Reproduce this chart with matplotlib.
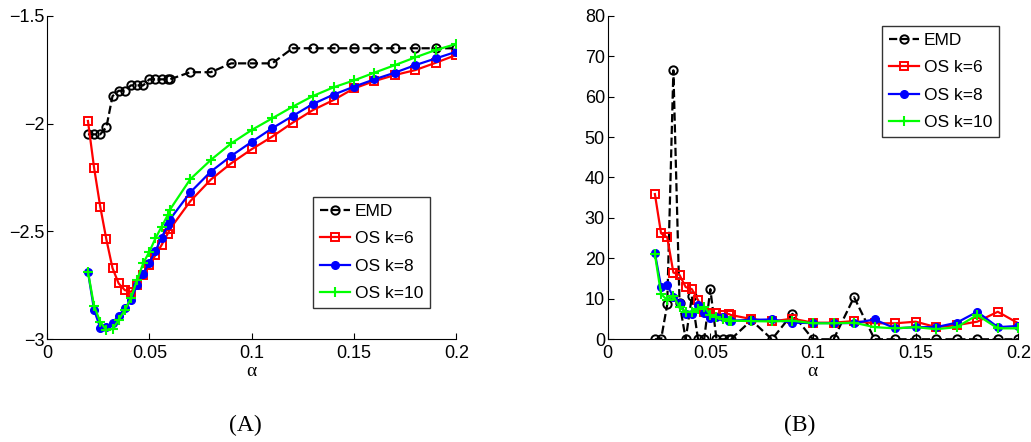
import matplotlib
matplotlib.use('Agg')
import matplotlib.pyplot as plt
import numpy as np

plt.rcParams['font.family'] = ['Liberation Sans', 'DejaVu Sans']

#####alpha grid#####
alpha = [0.02, 0.023, 0.026, 0.029, 0.032, 0.035, 0.038, 0.041, 0.044, 0.047,
         0.05, 0.053, 0.056, 0.059, 0.06, 0.07, 0.08, 0.09, 0.10, 0.11, 0.12,
         0.13, 0.14, 0.15, 0.16, 0.17, 0.18, 0.19, 0.20]
alpha_b = alpha[1:]

#####panel (A)#####
emd_a = [-2.05, -2.05, -2.05, -2.017, -1.873, -1.848, -1.848, -1.823, -1.823, -1.823,
         -1.795, -1.795, -1.795, -1.795, -1.795, -1.762, -1.762, -1.721, -1.721, -1.721,
         -1.651, -1.651, -1.651, -1.651, -1.651, -1.651, -1.651, -1.651, -1.651]
os6_a = [-1.988, -2.205, -2.385, -2.537, -2.67, -2.741, -2.772, -2.78, -2.748, -2.702,
         -2.655, -2.61, -2.563, -2.51, -2.49, -2.36, -2.26, -2.184, -2.119, -2.061,
         -1.996, -1.937, -1.891, -1.837, -1.803, -1.775, -1.752, -1.718, -1.682]
os8_a = [-2.687, -2.864, -2.946, -2.944, -2.923, -2.892, -2.857, -2.818, -2.748, -2.697,
         -2.645, -2.59, -2.529, -2.47, -2.445, -2.319, -2.223, -2.15, -2.085, -2.022,
         -1.965, -1.909, -1.866, -1.829, -1.795, -1.764, -1.729, -1.698, -1.667]
os10_a = [-2.687, -2.846, -2.919, -2.957, -2.952, -2.911, -2.864, -2.81, -2.725, -2.648,
          -2.594, -2.532, -2.478, -2.424, -2.40, -2.258, -2.169, -2.092, -2.03, -1.976,
          -1.922, -1.872, -1.832, -1.80, -1.764, -1.729, -1.693, -1.659, -1.631]

#####panel (B)#####
emd_b = [0, 0, 8.6, 66.5, 9.0, 0, 10.6, 0, 0, 12.4,
         0, 0, 0, 0, 4.7, 0, 6.3, 0, 0, 10.4,
         0, 0, 0, 0, 0, 0, 0, 0]
os6_b = [35.9, 26.2, 25.2, 16.5, 15.9, 12.9, 12.4, 9.7, 6.7, 6.6,
         6.4, 6.0, 6.25, 6.0, 5.0, 4.4, 5.1, 4.1, 4.1, 4.5,
         3.95, 3.95, 4.35, 3.0, 3.5, 4.35, 6.8, 3.95]
os8_b = [21.3, 13.0, 13.3, 10.5, 8.9, 6.25, 6.25, 8.5, 6.4, 5.2,
         5.4, 5.6, 4.6, 4.6, 4.8, 4.9, 4.1, 4.0, 4.0, 4.0,
         4.9, 2.7, 3.0, 3.0, 4.1, 6.8, 3.0, 3.3]
os10_b = [21.0, 11.2, 9.7, 10.7, 7.9, 6.8, 6.8, 7.4, 8.1, 6.0,
          5.4, 4.9, 4.6, 4.6, 4.5, 4.4, 4.6, 3.95, 3.95, 4.1,
          3.0, 2.7, 3.0, 2.5, 3.0, 6.0, 2.7, 2.7]

labels = ['EMD', 'OS k=6', 'OS k=8', 'OS k=10']

fig = plt.figure(figsize=(10.31, 4.42), dpi=100)
axA = fig.add_axes([0.0456, 0.2324, 0.397, 0.7321])
axB = fig.add_axes([0.5894, 0.2324, 0.3983, 0.7321])


def draw(ax, x, emd, os6, os8, os10):
    ax.plot(x, emd, '--', color='k', lw=1.6, marker='o', ms=6, mfc='none', mew=1.4, label=labels[0])
    ax.plot(x, os6, '-', color='r', lw=1.6, marker='s', ms=5.5, mfc='none', mew=1.4, label=labels[1])
    ax.plot(x, os8, '-', color='b', lw=1.6, marker='.', ms=11, label=labels[2])
    ax.plot(x, os10, '-', color='#00ff00', lw=1.6, marker='+', ms=7, mew=1.5, label=labels[3])
    ax.set_xlim(0, 0.2)
    ax.set_xticks([0, 0.05, 0.1, 0.15, 0.2])
    ax.set_xticklabels(['0', '0.05', '0.1', '0.15', '0.2'])
    ax.spines['top'].set_visible(False)
    ax.spines['right'].set_visible(False)
    ax.tick_params(direction='in', length=4, labelsize=13, pad=2)
    ax.tick_params(axis='x', pad=4)
    ax.set_xlabel(r'$\mathregular{\alpha}$', fontsize=14, family='Liberation Serif', labelpad=1)


def add_legend(ax, x0, y0):
    ax.legend(loc='upper left', bbox_to_anchor=(x0, y0), fontsize=12.5, frameon=True,
              fancybox=False, edgecolor='k', handlelength=1.75, borderpad=0.4,
              labelspacing=0.7, handletextpad=0.25, borderaxespad=0)


draw(axA, alpha, emd_a, os6_a, os8_a, os10_a)
axA.set_ylim(-3, -1.5)
axA.set_yticks([-3, -2.5, -2, -1.5])
axA.set_yticklabels(['\u22123', '\u22122.5', '\u22122', '\u22121.5'])
add_legend(axA, 0.65, 0.44)

draw(axB, alpha_b, emd_b, os6_b, os8_b, os10_b)
axB.set_ylim(0, 80)
axB.set_yticks(range(0, 81, 10))
add_legend(axB, 0.668, 0.968)

fig.text(0.238, 0.025, '(A)', ha='center', fontsize=17, family='Liberation Serif')
fig.text(0.776, 0.025, '(B)', ha='center', fontsize=17, family='Liberation Serif')

fig.savefig('out.png', dpi=100)
